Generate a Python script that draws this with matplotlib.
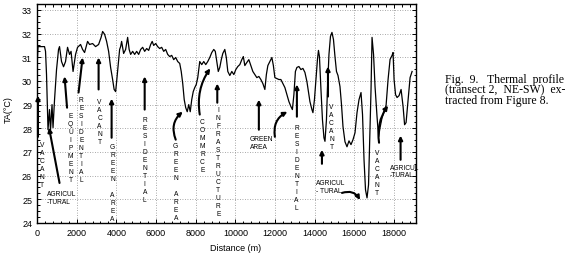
import matplotlib
matplotlib.use("Agg")
import matplotlib.pyplot as plt
from matplotlib.ticker import MultipleLocator

# thermal profile, transect 2 (NE-SW)
distance = [0, 50, 126, 379, 430, 480, 555, 630, 680, 757, 808, 884, 985, 1086, 1136,
            1237, 1338, 1439, 1540, 1641, 1717, 1818, 1944, 2045, 2197, 2298, 2399, 2550,
            2651, 2803, 2954, 3106, 3232, 3308, 3409, 3510, 3611, 3712, 3813, 3889, 3964,
            4015, 4090, 4166, 4217, 4267, 4318, 4368, 4469, 4570, 4646, 4722, 4823, 4924,
            5025, 5126, 5227, 5328, 5429, 5530, 5631, 5732, 5808, 5883, 5984, 6085, 6186,
            6287, 6388, 6489, 6590, 6691, 6792, 6893, 6994, 7095, 7196, 7272, 7348, 7423,
            7499, 7575, 7651, 7726, 7802, 7878, 7954, 8030, 8105, 8206, 8307, 8408, 8509,
            8610, 8711, 8812, 8913, 8989, 9065, 9140, 9216, 9292, 9368, 9469, 9545, 9621,
            9722, 9823, 9924, 10024, 10125, 10226, 10327, 10403, 10479, 10580, 10681, 10782,
            10883, 10984, 11085, 11186, 11287, 11388, 11489, 11565, 11640, 11741, 11842,
            11918, 11994, 12095, 12196, 12297, 12398, 12499, 12600, 12701, 12802, 12877,
            12953, 13029, 13104, 13205, 13306, 13407, 13509, 13610, 13685, 13761, 13862,
            13913, 13989, 14064, 14140, 14191, 14241, 14317, 14393, 14468, 14520, 14594,
            14645, 14721, 14797, 14872, 14948, 15024, 15100, 15176, 15277, 15353, 15428,
            15529, 15630, 15731, 15832, 15933, 16034, 16135, 16236, 16337, 16413, 16489,
            16564, 16640, 16716, 16792, 16842, 16893, 16969, 17044, 17145, 17221, 17297,
            17398, 17499, 17600, 17701, 17802, 17903, 17953, 18004, 18079, 18155, 18256,
            18357, 18458, 18534, 18609, 18710, 18811, 18912]
temp = [30.5, 31.45, 31.45, 31.45, 31.25, 30.27, 27.94, 28.79, 27.9, 29.0, 28.03, 29.2,
        30.48, 31.33, 31.45, 30.82, 30.6, 30.82, 31.42, 31.12, 31.25, 30.4, 31.12, 31.42,
        31.54, 31.33, 31.2, 31.67, 31.54, 31.58, 31.45, 31.54, 31.84, 32.09, 31.97, 31.67,
        31.25, 30.57, 30.06, 29.64, 29.55, 29.97, 30.65, 31.33, 31.45, 31.67, 31.42, 31.16,
        31.33, 31.84, 31.33, 31.12, 31.25, 31.12, 31.25, 31.12, 31.33, 31.42, 31.25, 31.37,
        31.29, 31.54, 31.67, 31.5, 31.58, 31.45, 31.37, 31.42, 31.25, 31.33, 31.12, 31.03,
        31.08, 30.9, 30.99, 30.82, 30.74, 30.4, 29.89, 29.21, 28.87, 28.7, 29.0, 28.7,
        29.21, 29.55, 29.72, 29.85, 30.14, 30.82, 30.69, 30.82, 30.69, 30.82, 30.99, 31.2,
        31.33, 31.25, 30.82, 30.4, 30.57, 30.9, 31.16, 31.33, 30.99, 30.4, 30.23, 30.4,
        30.27, 30.48, 30.61, 30.69, 30.9, 31.03, 30.65, 30.78, 30.9, 30.65, 30.4, 30.27,
        30.14, 30.19, 30.06, 29.89, 29.64, 30.27, 30.65, 30.82, 30.99, 30.65, 30.14, 30.1,
        30.06, 30.06, 29.89, 29.72, 29.42, 29.13, 28.92, 28.79, 29.42, 30.4, 30.57, 30.61,
        30.48, 30.53, 30.36, 29.97, 29.55, 29.13, 28.79, 28.66, 29.21, 30.06, 30.9, 31.29,
        31.03, 29.64, 28.36, 27.6, 27.45, 28.36, 29.64, 31.12, 31.88, 32.05, 31.75, 31.03,
        30.4, 30.23, 29.76, 29.0, 28.07, 27.43, 27.22, 27.47, 27.31, 27.52, 27.81, 28.66,
        29.21, 29.51, 28.58, 26.67, 25.4, 25.06, 25.61, 27.94, 29.64, 31.84, 31.12, 29.76,
        28.49, 27.64, 28.03, 28.45, 28.7, 28.96, 30.06, 30.91, 31.08, 31.2, 30.06, 29.42,
        29.3, 29.38, 29.64, 28.92, 28.15, 28.24, 29.21, 30.14, 30.4]

x_ticks = [0, 2000, 4000, 6000, 8000, 10000, 12000, 14000, 16000, 18000]
y_ticks = [24, 25, 26, 27, 28, 29, 30, 31, 32, 33]

# land-use labels written letter by letter (text, x, y centre)
vertical_labels = [
    ("VACANT", 243, 26.48),
    ("EQUIPMENT", 1692, 27.2),
    ("RESIDENTIAL", 2232, 27.52),
    ("VACANT", 3156, 28.29),
    ("GREEN AREA", 3813, 25.69),
    ("RESIDENTIAL", 5429, 26.69),
    ("GREEN AREA", 6994, 25.76),
    ("COMMRCE", 8343, 27.26),
    ("INFRASTRUCTURE", 9140, 26.6),
    ("RESIDENTIAL", 13080, 26.35),
    ("VACANT", 14847, 28.07),
    ("VACANT", 17145, 26.12),
]
block_labels = [
    ("AGRICUL\n-TURAL", 480, 25.08),
    ("GREEN\nAREA", 10731, 27.41),
    ("AGRICUL\n- TURAL", 14090, 25.55),
    ("AGRICUL\n-TURAL", 17801, 26.2),
]
# arrows: tail, head, curvature
arrows = [
    ((50, 27.64), (50, 29.38), 0.0),
    ((1136, 25.69), (606, 28.03), 0.0),
    ((1515, 28.87), (1389, 30.19), 0.0),
    ((2096, 29.51), (2298, 30.99), 0.0),
    ((3106, 29.64), (3106, 30.99), 0.0),
    ((3762, 27.6), (3762, 29.25), 0.0),
    ((5429, 28.79), (5429, 30.19), 0.0),
    ((6994, 27.52), (7348, 28.7), -0.35),
    ((8206, 28.58), (8736, 30.53), -0.2),
    ((9090, 29.08), (9090, 29.89), 0.0),
    ((11186, 27.94), (11186, 29.21), 0.0),
    ((11994, 27.64), (12625, 28.7), -0.35),
    ((13104, 28.49), (13104, 29.85), 0.0),
    ((14671, 29.34), (14671, 30.61), 0.0),
    ((14367, 26.5), (14367, 27.09), 0.0),
    ((15378, 25.27), (16286, 24.97), -0.4),
    ((17246, 27.39), (17701, 28.96), -0.2),
    ((18332, 26.67), (18332, 27.69), 0.0),
]

fig = plt.figure(figsize=(5.79, 2.55), dpi=100)
ax = fig.add_axes([0.0639, 0.1216, 0.6546, 0.8588])

ax.plot(distance, temp, color="black", lw=0.9)

ax.set_xlim(0, 19110)
ax.set_ylim(24, 33.25)
ax.set_xticks(x_ticks)
ax.set_yticks(y_ticks)
ax.xaxis.set_minor_locator(MultipleLocator(400))
ax.yaxis.set_minor_locator(MultipleLocator(0.25))
ax.tick_params(which="both", direction="in", top=True, right=True, width=0.7)
ax.tick_params(which="major", length=3, labelsize=6.5)
ax.tick_params(which="minor", length=1.8)
for lab in ax.get_xticklabels() + ax.get_yticklabels():
    lab.set_family("Liberation Sans")
ax.grid(True, which="major", color="#8c8c8c", lw=0.6, linestyle=(0, (1, 2)))
for sp in ax.spines.values():
    sp.set_linewidth(1.0)

fig.text(0.525 * 0.6546 + 0.0639, 0.027, "Distance (m)", ha="center", va="center",
         fontsize=6.5, family="Liberation Sans")
fig.text(0.014, 0.569, "TA(°C)", rotation=90, ha="center", va="center",
         fontsize=6.5, family="Liberation Sans")

for word, x, y in vertical_labels:
    ax.text(x, y, "\n".join(word), ha="center", va="center", fontsize=4.8,
            linespacing=1.2, family="Liberation Sans")
for word, x, y in block_labels:
    ax.text(x, y, word, ha="left", va="center", fontsize=4.8,
            linespacing=1.1, family="Liberation Sans")
for tail, head, rad in arrows:
    ax.annotate("", xy=head, xytext=tail,
                arrowprops=dict(arrowstyle="-|>", color="black", lw=1.5,
                                mutation_scale=6, shrinkA=0, shrinkB=0,
                                connectionstyle=f"arc3,rad={rad}"))

caption = ["Fig.  9.   Thermal  profile", "(transect 2,  NE-SW)  ex-", "tracted from Figure 8."]
for i, line in enumerate(caption):
    fig.text(445 / 579, 0.686 - i * 0.042, line, ha="left", va="center",
             fontsize=8.5, family="Liberation Serif")

fig.savefig("out.png", dpi=100)
